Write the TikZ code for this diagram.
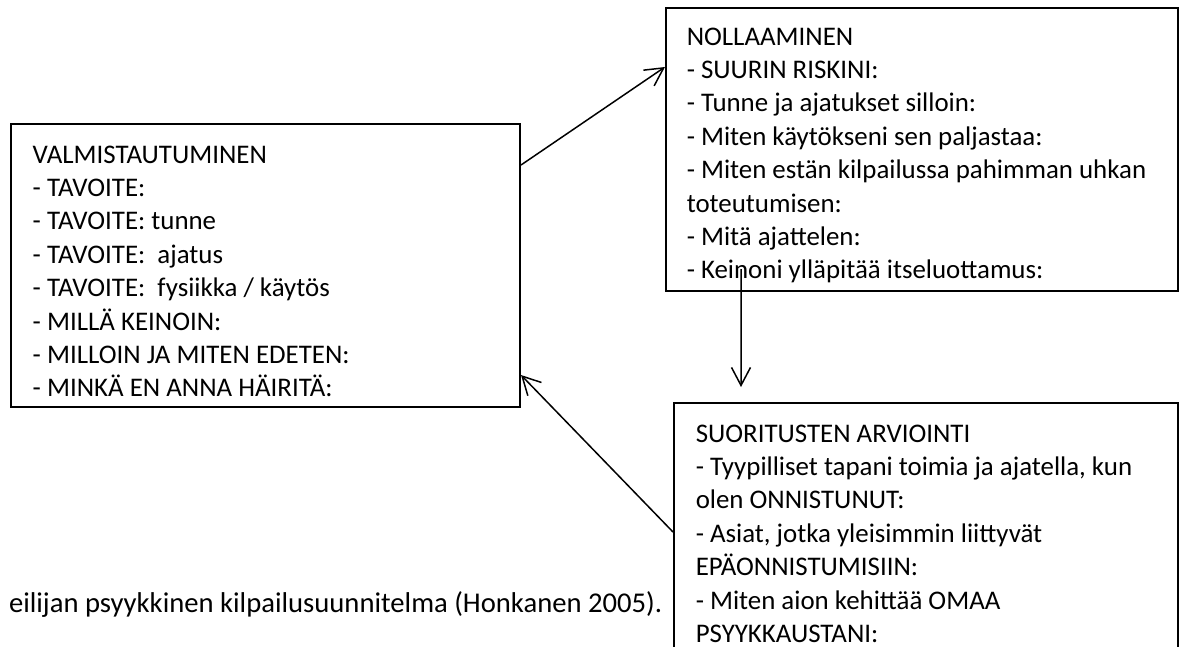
\documentclass[tikz,border=0pt]{standalone}
\usepackage{fontspec}
\setmainfont{Carlito}
\usepackage{tikz}
\usetikzlibrary{arrows.meta, calc}

\begin{document}
\begin{tikzpicture}[
  >={Straight Barb[length=3.6mm, width=3.8mm]}, line width=0.85pt,
  laatikko/.style={draw, line width=1.15pt, anchor=north west, inner sep=0pt},
  teksti/.style={anchor=north west, align=left, inner sep=0pt,
                 font=\fontsize{15.3}{19}\selectfont}]

  \clip (0,0) rectangle (23.72,12.92);

  \node[laatikko, minimum width=10.18cm, minimum height=5.66cm] (valm) at (0.20,10.46) {};
  \node[laatikko, minimum width=10.24cm, minimum height=5.66cm] (noll) at (13.30,12.78) {};
  \node[laatikko, minimum width=10.08cm, minimum height=6.50cm] (suor) at (13.46,4.88) {};

  \node[teksti] (valmteksti) at ($(valm.north west)+(0.44,-0.44)$)
    {VALMISTAUTUMINEN\\- TAVOITE:\\- TAVOITE: tunne\\- TAVOITE:\ \ ajatus\\
     - TAVOITE:\ \ fysiikka / käytös\\- MILLÄ KEINOIN:\\- MILLOIN JA MITEN EDETEN:\\
     - MINKÄ EN ANNA HÄIRITÄ:};
  \node[teksti] (nollteksti) at ($(noll.north west)+(0.42,-0.40)$)
    {NOLLAAMINEN\\- SUURIN RISKINI:\\- Tunne ja ajatukset silloin:\\
     - Miten käytökseni sen paljastaa:\\- Miten estän kilpailussa pahimman uhkan\\
     toteutumisen:\\- Mitä ajattelen:\\- Keinoni ylläpitää itseluottamus:};
  \node[teksti] (suorteksti) at ($(suor.north west)+(0.44,-0.44)$)
    {SUORITUSTEN ARVIOINTI\\- Tyypilliset tapani toimia ja ajatella, kun\\
     olen ONNISTUNUT:\\- Asiat, jotka yleisimmin liittyvät\\EPÄONNISTUMISIIN:\\
     - Miten aion kehittää OMAA\\PSYYKKAUSTANI:};

  \node[anchor=base east, inner sep=0pt, font=\fontsize{16.3}{19}\selectfont]
    (otsikko) at (13.26,0.68) {eilijan psyykkinen kilpailusuunnitelma (Honkanen 2005).};

  \draw[->] ($(valm.north east)+(0,-0.84)$) -- ($(noll.north west)+(0,-1.20)$);
  \draw[->] ($(noll.south west)+(1.52,0.46)$) -- ($(suor.north west)+(1.36,0.30)$);
  \draw[->] ($(suor.north west)+(0,-2.60)$) -- ($(valm.south east)+(0,0.66)$);
\end{tikzpicture}
\end{document}
